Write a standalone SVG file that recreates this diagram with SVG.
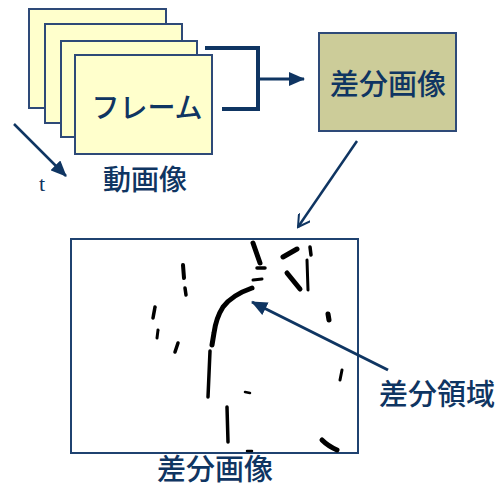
<svg xmlns="http://www.w3.org/2000/svg" width="503" height="489" viewBox="0 0 503 489">
<style>
.frame{fill:#FFFFCC;stroke:#2E4A78;stroke-width:2}
.lbl{font-family:"Noto Sans CJK JP","Noto Sans",sans-serif;font-weight:500;fill:#0F3562;text-anchor:middle}
.conn{stroke:#0F3562;fill:none}
.ink{stroke:#000;fill:none;stroke-linecap:round}
</style>
<defs>
<marker id="ahBig" markerWidth="16" markerHeight="14" refX="15" refY="7" orient="auto" markerUnits="userSpaceOnUse">
<path d="M0,0 L16,7 L0,14 z" fill="#0F3562"/>
</marker>
<marker id="ahOpen" markerWidth="14" markerHeight="14" refX="12" refY="7" orient="auto" markerUnits="userSpaceOnUse">
<path d="M0,0 L12,7 L0,14" fill="none" stroke="#0F3562" stroke-width="2"/>
</marker>
</defs>
<g id="video">
<rect class="frame" x="29" y="9" width="137" height="99"/>
<rect class="frame" x="45" y="24" width="137" height="99"/>
<rect class="frame" x="61" y="41" width="136" height="96"/>
<rect class="frame" x="75" y="55" width="137" height="99"/>
<text class="lbl" x="147" y="118" font-size="28">フレーム</text>
<text class="lbl" x="145" y="190" font-size="28">動画像</text>
</g>
<g id="t-axis">
<text x="42" y="191" style="font-family:'Liberation Serif','DejaVu Serif',serif;font-size:22px;fill:#0F3562" text-anchor="middle">t</text>
</g>
<g id="diff-node">
<rect x="319" y="33" width="137" height="98" fill="#CCCC99" stroke="#2E4A78" stroke-width="2"/>
<text class="lbl" x="388" y="95" font-size="29">差分画像</text>
</g>
<g id="diff-image">
<rect x="71" y="239" width="287" height="214" fill="#fff" stroke="#1F4270" stroke-width="2"/>
<g class="ink">
<path d="M253,243 L260,263" stroke-width="5"/>
<path d="M257,268 L265,268" stroke-width="3.5"/>
<path d="M253,280 L262,279" stroke-width="3"/>
<path d="M252,288 Q232,295 223,307 Q216,318 214,333 L212,345" stroke-width="5"/>
<path d="M210,351 L208,397" stroke-width="3.5"/>
<path d="M227,407 L228,442" stroke-width="3.5"/>
<path d="M245,392 L250,393" stroke-width="2.5"/>
<path d="M183,265 L184,278" stroke-width="4"/>
<path d="M185,288 L186,295" stroke-width="3.5"/>
<path d="M155,307 L153,318" stroke-width="3.5"/>
<path d="M158,330 L157,338" stroke-width="3"/>
<path d="M178,343 L175,352" stroke-width="3.5"/>
<path d="M283,257 L297,249" stroke-width="5"/>
<path d="M310,247 L311,255" stroke-width="3.5"/>
<path d="M287,273 L300,289" stroke-width="5"/>
<path d="M307,260 L308,290" stroke-width="3"/>
<path d="M328,314 L329,320" stroke-width="5"/>
<path d="M342,370 L340,380" stroke-width="3"/>
<path d="M322,440 Q328,446 337,450" stroke-width="5"/>
<path d="M247,451 L252,451" stroke-width="2.5"/>
</g>
<text class="lbl" x="215" y="480" font-size="29">差分画像</text>
</g>
<g id="region-label">
<text class="lbl" x="437" y="405" font-size="29">差分領域</text>
</g>
<g id="connectors">
<path class="conn" d="M205,48 L258,48 L258,109 L222,109" stroke-width="4"/>
<path class="conn" d="M258,79 L304,79" stroke-width="3" marker-end="url(#ahBig)"/>
<path class="conn" d="M14,124 L66,176" stroke-width="2.5" marker-end="url(#ahBig)"/>
<path class="conn" d="M357,141 L298,227" stroke-width="2.5" marker-end="url(#ahOpen)"/>
<path class="conn" d="M388,370 L252,302" stroke-width="3" marker-end="url(#ahBig)"/>
</g>
</svg>
